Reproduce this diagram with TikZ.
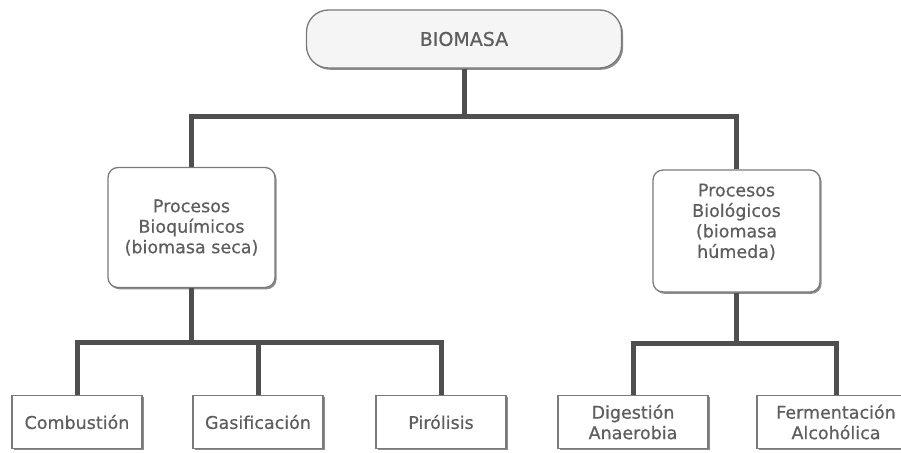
\documentclass[tikz,border=0pt]{standalone}
\usepackage{fontspec}
\setmainfont{DejaVu Sans}
\newfontfamily\boxfont[FakeBold=0.6]{DejaVu Sans}
\usetikzlibrary{shadows}
\definecolor{inkgray}{HTML}{4F4F4F}
\definecolor{textgray}{HTML}{5E5E5E}
\definecolor{edgegray}{HTML}{7A7A7A}
\tikzset{
  boxbase/.style={draw=edgegray, line width=1.3pt, fill=white, text=textgray,
    align=center, inner sep=1pt,
    font=\boxfont\fontsize{17.5}{20.5}\selectfont,
    drop shadow={shadow xshift=1.6pt, shadow yshift=-1.8pt, fill=black!45, opacity=1}},
  topbox/.style={boxbase, rounded corners=22pt, fill=black!4,
    font=\boxfont\fontsize{19}{22}\selectfont,
    minimum width=315pt, minimum height=58pt},
  midbox/.style={boxbase, rounded corners=10pt,
    minimum width=167pt, minimum height=120pt},
  leafbox/.style={boxbase, minimum height=53pt},
  link/.style={draw=inkgray, line width=5pt, line join=miter}
}
\begin{document}
\begin{tikzpicture}[x=1pt,y=-1pt]
  \useasboundingbox (0,0) rectangle (901,452);

  % root
  \node[topbox] (bio) at (464,39) {BIOMASA};

  % process groups
  \node[midbox] (bq) at (191.5,227.5) {Procesos\\Bioquímicos\\(biomasa seca)};
  \node[midbox, minimum height=122pt] (bl) at (736.5,231)
    {Procesos\\Biológicos\\(biomasa\\húmeda)\\ \mbox{}};

  % leaves
  \node[leafbox, minimum width=130pt] (comb) at (77,422) {Combustión};
  \node[leafbox, minimum width=130pt] (gas)  at (258,422) {Gasificación};
  \node[leafbox, minimum width=130pt] (pir)  at (441,422) {Pirólisis};
  \node[leafbox, minimum width=150pt] (dig)  at (633,422) {Digestión\\Anaerobia};
  \node[leafbox, minimum width=158pt] (fer)  at (836,422) {Fermentación\\Alcohólica};

  % junction points
  \coordinate (j1) at (464,116);
  \coordinate (j2) at (191.5,342);
  \coordinate (j3) at (736.5,343);

  % connectors
  \draw[link] (bio.south) -- (j1);
  \draw[link] (bq.north) |- (j1) -| (bl.north);

  \draw[link] (bq.south) -- (j2);
  \draw[link] (comb.north) |- (j2) -| (pir.north);
  \draw[link] (gas.north) -- (gas.north |- j2);

  \draw[link] (bl.south) -- (j3);
  \draw[link] (dig.north) |- (j3) -| (fer.north);
\end{tikzpicture}
\end{document}
